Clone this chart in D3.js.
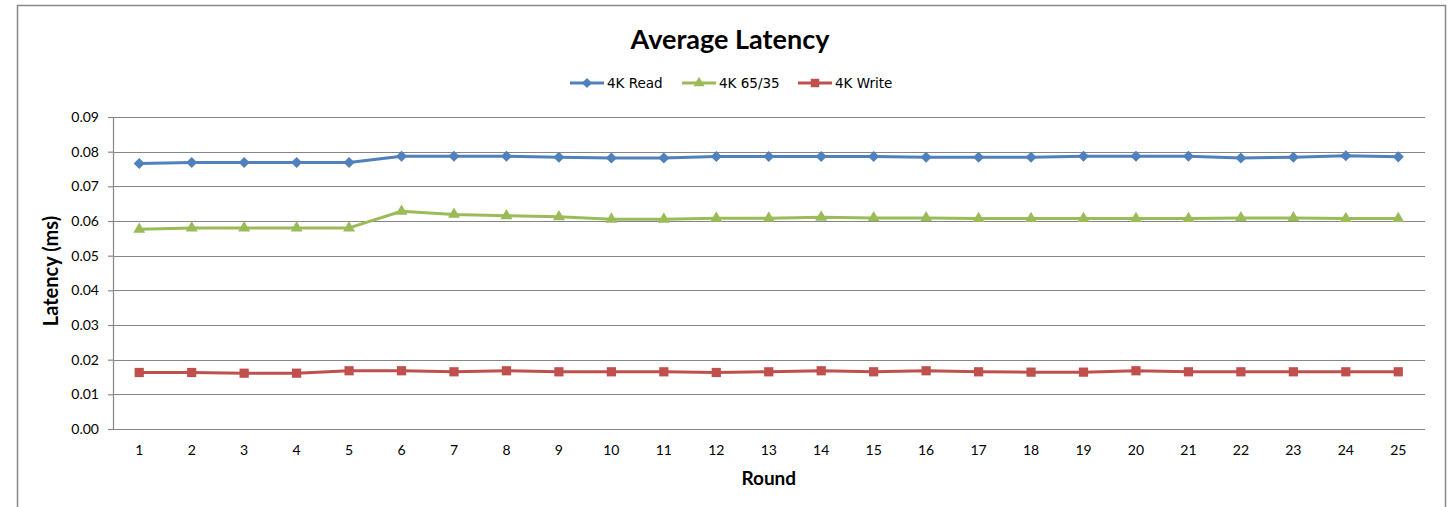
<!DOCTYPE html>
<html>
<head>
<meta charset="utf-8">
<script src="https://cdn.jsdelivr.net/npm/d3@7"></script>
<style>
  body { margin: 0; background: #fff; }
  svg text { font-family: Lato, "Open Sans", sans-serif; }
</style>
</head>
<body>
<script>
const rounds = d3.range(1, 26);
const read4k = [0.0766, 0.0769, 0.0769, 0.0769, 0.0769, 0.0787, 0.0787, 0.0787, 0.0784, 0.0782, 0.0782, 0.0786, 0.0786, 0.0786, 0.0786, 0.0784, 0.0784, 0.0784, 0.0787, 0.0787, 0.0787, 0.0782, 0.0784, 0.0788, 0.0785];
const mixed4k = [0.0576, 0.0580, 0.0580, 0.0580, 0.0580, 0.0628, 0.0619, 0.0615, 0.0612, 0.0605, 0.0605, 0.0608, 0.0608, 0.0611, 0.0609, 0.0609, 0.0607, 0.0607, 0.0607, 0.0607, 0.0607, 0.0609, 0.0609, 0.0607, 0.0607];
const write4k = [0.0163, 0.0163, 0.0161, 0.0161, 0.0168, 0.0168, 0.0165, 0.0168, 0.0165, 0.0165, 0.0165, 0.0163, 0.0165, 0.0168, 0.0165, 0.0168, 0.0165, 0.0164, 0.0164, 0.0168, 0.0165, 0.0165, 0.0165, 0.0165, 0.0165];
const yTicks = [0, 0.01, 0.02, 0.03, 0.04, 0.05, 0.06, 0.07, 0.08, 0.09];

const series = [
  {name: "4K Read", values: read4k, color: "#4F81BD", symbol: d3.symbolDiamond2, size: 78},
  {name: "4K 65/35", values: mixed4k, color: "#9BBB59", symbol: d3.symbolTriangle, size: 62},
  {name: "4K Write", values: write4k, color: "#C0504D", symbol: d3.symbolSquare, size: 85}
];

const width = 1452, height = 507;
const margin = {top: 117, right: 27, bottom: 78, left: 113};

const svg = d3.select("body").append("svg")
    .attr("width", width)
    .attr("height", height);

// chart frame
svg.append("rect")
    .attr("x", 17.5).attr("y", 5.5)
    .attr("width", 1428).attr("height", 520)
    .attr("fill", "none")
    .attr("stroke", "#888")
    .attr("stroke-width", 1.5);

const x = d3.scaleBand()
    .domain(rounds)
    .range([margin.left, width - margin.right - 0.5]);

const y = d3.scaleLinear()
    .domain([0, 0.09])
    .range([height - margin.bottom, margin.top]);

// gridlines
svg.append("g")
    .attr("stroke", "#868686")
    .attr("stroke-width", 1.2)
  .selectAll("line")
  .data(yTicks.slice(1))
  .join("line")
    .attr("x1", margin.left)
    .attr("x2", width - margin.right)
    .attr("y1", d => Math.round(y(d)) + 0.5)
    .attr("y2", d => Math.round(y(d)) + 0.5);

const yAxis = g => g
    .attr("transform", `translate(${margin.left},0)`)
    .call(d3.axisLeft(y).tickValues(yTicks).tickFormat(d3.format(".2f")).tickSize(5).tickPadding(9))
    .call(g => g.select(".domain").attr("stroke", "#868686").attr("stroke-width", 1.2))
    .call(g => g.selectAll(".tick line").attr("stroke", "#868686").attr("stroke-width", 1.2))
    .call(g => g.selectAll("text").attr("font-size", 14).attr("fill", "#000"));

const xAxis = g => g
    .attr("transform", `translate(0,${height - margin.bottom})`)
    .call(d3.axisBottom(x).tickSize(0).tickPadding(16))
    .call(g => g.select(".domain").attr("stroke", "#868686").attr("stroke-width", 1.2))
    .call(g => g.selectAll("text").attr("font-size", 14).attr("fill", "#000"));

svg.append("g").call(yAxis);
svg.append("g").call(xAxis);

// lines + markers
const line = d3.line()
    .x((d, i) => x(rounds[i]) + x.bandwidth() / 2)
    .y(d => y(d));

for (const s of series) {
  svg.append("path")
      .datum(s.values)
      .attr("fill", "none")
      .attr("stroke", s.color)
      .attr("stroke-width", 3)
      .attr("stroke-linejoin", "round")
      .attr("d", line);

  svg.append("g")
      .attr("fill", s.color)
    .selectAll("path")
    .data(s.values)
    .join("path")
      .attr("transform", (d, i) => `translate(${x(rounds[i]) + x.bandwidth() / 2},${y(d)})`)
      .attr("d", d3.symbol(s.symbol, s.size));
}

// title
svg.append("text")
    .attr("x", 730).attr("y", 49)
    .attr("text-anchor", "middle")
    .attr("font-size", 27)
    .attr("font-weight", "bold")
    .text("Average Latency");

// legend
const legendX = [570, 682, 798];
const legend = svg.append("g")
  .selectAll("g")
  .data(series)
  .join("g")
    .attr("transform", (d, i) => `translate(${legendX[i]},83)`);

legend.append("line")
    .attr("x1", 0).attr("x2", 34)
    .attr("stroke", d => d.color)
    .attr("stroke-width", 3);

legend.append("path")
    .attr("transform", "translate(17,0)")
    .attr("fill", d => d.color)
    .attr("d", d => d3.symbol(d.symbol, d.size * 0.85)());

legend.append("text")
    .attr("x", 37)
    .attr("dy", "0.35em")
    .attr("font-size", 13.5)
    .style("font-family", "'DejaVu Sans', sans-serif")
    .text(d => d.name);

// axis titles
svg.append("text")
    .attr("x", x(13) + x.bandwidth() / 2)
    .attr("y", 485)
    .attr("text-anchor", "middle")
    .attr("font-size", 19)
    .attr("font-weight", "bold")
    .text("Round");

svg.append("text")
    .attr("transform", `translate(58,${y(0.045) - 2}) rotate(-90)`)
    .attr("text-anchor", "middle")
    .attr("font-size", 20)
    .attr("font-weight", "bold")
    .text("Latency (ms)");
</script>
</body>
</html>
